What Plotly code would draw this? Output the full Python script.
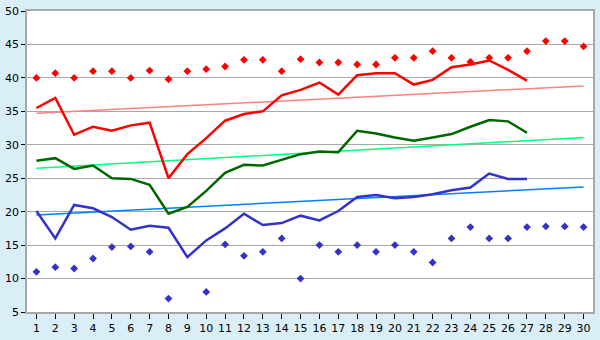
import plotly.graph_objects as go

days = list(range(1, 31))
line_days = list(range(1, 28))
trend_days = [1, 30]

red_line = [35.5, 37.0, 31.5, 32.7, 32.1, 32.9, 33.3, 25.0, 28.6, 31.0,
            33.6, 34.6, 35.0, 37.4, 38.2, 39.3, 37.5, 40.4, 40.7, 40.7,
            39.0, 39.7, 41.6, 42.0, 42.6, 41.2, 39.6]
red_pts = [40.0, 40.7, 40.0, 41.0, 41.0, 40.0, 41.1, 39.8, 41.0, 41.3,
           41.7, 42.7, 42.7, 41.0, 42.8, 42.3, 42.3, 42.0, 42.0, 43.0,
           43.0, 44.0, 43.0, 42.4, 43.0, 43.0, 44.0, 45.5, 45.5, 44.7]
red_trend = [34.7, 38.8]

green_line = [27.6, 28.0, 26.4, 26.9, 25.0, 24.9, 24.0, 19.7, 20.7, 23.1,
              25.8, 27.0, 26.9, 27.7, 28.6, 29.0, 28.9, 32.1, 31.7, 31.1,
              30.6, 31.1, 31.6, 32.7, 33.7, 33.5, 31.8]
green_trend = [26.5, 31.1]

blue_line = [20.1, 16.0, 21.0, 20.5, 19.2, 17.3, 17.9, 17.6, 13.2, 15.7,
             17.5, 19.7, 18.0, 18.3, 19.4, 18.7, 20.1, 22.2, 22.5, 22.0,
             22.2, 22.6, 23.2, 23.6, 25.7, 24.9, 24.9]
blue_pt_days = [1, 2, 3, 4, 5, 6, 7, 8, 10, 11, 12, 13, 14, 15, 16, 17, 18,
                19, 20, 21, 22, 23, 24, 25, 26, 27, 28, 29, 30]
blue_pts = [11.0, 11.7, 11.5, 13.0, 14.7, 14.8, 14.0, 7.0, 8.0, 15.1,
            13.4, 14.0, 16.0, 10.0, 15.0, 14.0, 15.0, 14.0, 15.0, 14.0,
            12.4, 16.0, 17.7, 16.0, 16.0, 17.7, 17.8, 17.8, 17.7]
blue_trend = [19.5, 23.7]

y_ticks = [5, 10, 15, 20, 25, 30, 35, 40, 45, 50]

fig = go.Figure()
fig.add_trace(go.Scatter(x=trend_days, y=red_trend, mode="lines",
                         line=dict(color="#ff8080", width=1.5)))
fig.add_trace(go.Scatter(x=trend_days, y=green_trend, mode="lines",
                         line=dict(color="#00ff80", width=1.5)))
fig.add_trace(go.Scatter(x=trend_days, y=blue_trend, mode="lines",
                         line=dict(color="#0080ff", width=1.5)))
fig.add_trace(go.Scatter(x=line_days, y=red_line, mode="lines",
                         line=dict(color="#ff0000", width=2.5)))
fig.add_trace(go.Scatter(x=line_days, y=green_line, mode="lines",
                         line=dict(color="#006600", width=2.5)))
fig.add_trace(go.Scatter(x=line_days, y=blue_line, mode="lines",
                         line=dict(color="#3333cc", width=2.5)))
fig.add_trace(go.Scatter(x=days, y=red_pts, mode="markers",
                         marker=dict(symbol="diamond", size=6, color="#ff0000")))
fig.add_trace(go.Scatter(x=blue_pt_days, y=blue_pts, mode="markers",
                         marker=dict(symbol="diamond", size=6, color="#3333cc")))

fig.update_layout(
    width=600, height=340,
    margin=dict(l=20, r=5, t=5, b=20),
    paper_bgcolor="#d9eef6",
    plot_bgcolor="#ffffff",
    showlegend=False,
    hovermode=False,
    font=dict(family="DejaVu Sans", size=11, color="#000000"),
)
fig.update_xaxes(range=[0.5, 30.5], tickvals=days, ticktext=[str(d) for d in days],
                 showgrid=False, zeroline=False, showline=True, linecolor="#a8a8a8",
                 linewidth=1.5, mirror=True, ticks="outside", ticklen=5,
                 tickcolor="#000000", tickwidth=1)
fig.update_yaxes(range=[5, 50], tickvals=y_ticks, showgrid=True, gridcolor="#a8a8a8",
                 gridwidth=1, zeroline=False, showline=True, linecolor="#a8a8a8",
                 linewidth=1.5, mirror=True, ticks="outside", ticklen=4,
                 tickcolor="#000000", tickwidth=1)

fig.write_html("out.html")
